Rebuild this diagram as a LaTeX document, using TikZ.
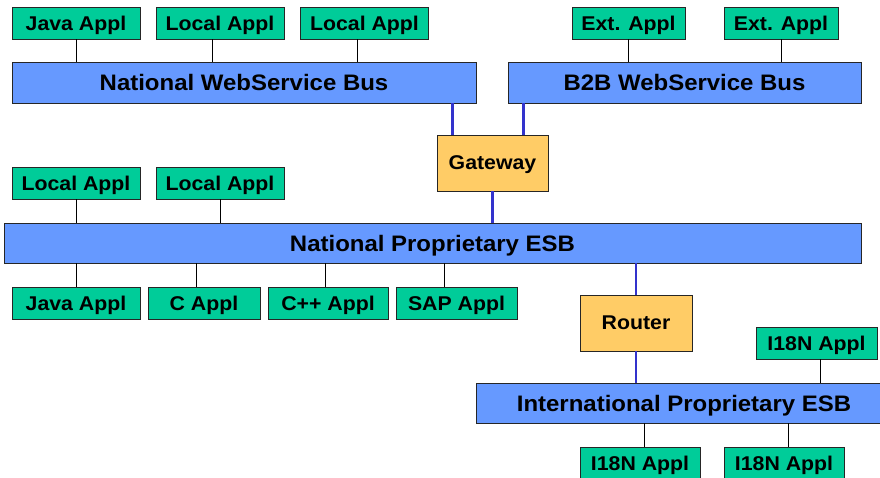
\documentclass[tikz,border=0pt]{standalone}
\usepackage{fontspec}
\newfontfamily\diafont[FakeStretch=1.07]{Liberation Sans}
\definecolor{applgreen}{HTML}{00CC99}
\definecolor{busblue}{HTML}{6699FF}
\definecolor{gwyellow}{HTML}{FFCC66}
\definecolor{linkblue}{HTML}{3333CC}
\tikzset{ap/.style = {rectangle, draw=black!85, fill=applgreen, inner sep=0pt, minimum height=32pt, text depth=0pt,
                      font=\diafont\bfseries\fontsize{19.9}{20}\selectfont},
           bus/.style = {rectangle, draw=black!85, fill=busblue, inner sep=0pt, minimum height=41pt, text depth=0pt,
                      font=\diafont\bfseries\fontsize{22.4}{23}\selectfont},
           gw/.style = {rectangle, draw=black!85, fill=gwyellow, inner sep=0pt, minimum height=56pt, text depth=0pt,
                      font=\diafont\bfseries\fontsize{19.9}{20}\selectfont},
           ln/.style = {line width=0.8pt, draw=black},
           bl/.style = {line width=2.6pt, draw=linkblue}}

\begin{document}
\begin{tikzpicture}[x=1pt, y=-1pt]
    \useasboundingbox (0,0) rectangle (880,477);
    \clip (0,0) rectangle (880,477);
    % upper buses
    \node[bus, minimum width=464pt] (nwb) at (244,82.5) {National WebService Bus};
    \node[bus, minimum width=353pt] (b2b) at (684.5,82.5) {B2B WebService Bus};
    \node[ap, minimum width=128pt] (ja1) at (76,23) {Java Appl}; \node[ap, minimum width=128pt] (la1) at (220,23) {Local Appl};
    \node[ap, minimum width=128pt] (la2) at (364.5,23) {Local Appl};
    \node[ap, minimum width=113pt] (ea1) at (628.5,23) {Ext. Appl}; \node[ap, minimum width=114pt] (ea2) at (781,23) {Ext. Appl};
    \node[gw, minimum width=111pt] (gw) at (492.5,163) {Gateway};
    % national ESB
    \node[bus, minimum width=857pt, minimum height=40pt] (nesb) at (432.5,243) {National Proprietary ESB};
    \node[ap, minimum width=128pt] (la3) at (76,183) {Local Appl}; \node[ap, minimum width=128pt] (la4) at (220,183) {Local Appl};
    \node[ap, minimum width=128pt] (ja2) at (76,303) {Java Appl}; \node[ap, minimum width=112pt] (ca) at (204,303) {C Appl};
    \node[ap, minimum width=120pt] (cpa) at (328,303) {C++ Appl}; \node[ap, minimum width=121pt] (sapa) at (456.5,303) {SAP Appl};
    \node[gw, minimum width=112pt] (rt) at (636,323) {Router};
    % international ESB
    \node[bus, minimum width=416pt, minimum height=40pt] (iesb) at (684,403) {International Proprietary ESB};
    \node[ap, minimum width=121pt] (ia1) at (816.5,343) {I18N Appl};
    \node[ap, minimum width=120pt] (ia2) at (640,463) {I18N Appl}; \node[ap, minimum width=120pt] (ia3) at (784,463) {I18N Appl};
    \draw[ln] (ja1.south) -- (ja1.south |- nwb.north);
    \draw[ln] ([xshift=-8pt]la1.south) -- ([xshift=-8pt]la1.south |- nwb.north);
    \draw[ln] ([xshift=-7pt]la2.south) -- ([xshift=-7pt]la2.south |- nwb.north);
    \draw[ln] (ea1.south) -- (ea1.south |- b2b.north);
    \draw[ln] (ea2.south) -- (ea2.south |- b2b.north);
    \draw[bl] ([xshift=-40pt]gw.north) -- ([xshift=-40pt]gw.north |- nwb.south);
    \draw[bl] ([xshift=31pt]gw.north) -- ([xshift=31pt]gw.north |- b2b.south);
    \draw[bl] (gw.south) -- (gw.south |- nesb.north);
    \draw[ln] (la3.south) -- (la3.south |- nesb.north);
    \draw[ln] (la4.south) -- (la4.south |- nesb.north);
    \draw[ln] (ja2.north) -- (ja2.north |- nesb.south);
    \draw[ln] ([xshift=-8pt]ca.north) -- ([xshift=-8pt]ca.north |- nesb.south);
    \draw[ln] ([xshift=-3pt]cpa.north) -- ([xshift=-3pt]cpa.north |- nesb.south);
    \draw[ln] ([xshift=-12pt]sapa.north) -- ([xshift=-12pt]sapa.north |- nesb.south);
    \draw[bl] (rt.north) -- (rt.north |- nesb.south);
    \draw[bl] (rt.south) -- (rt.south |- iesb.north);
    \draw[ln] ([xshift=4pt]ia1.south) -- ([xshift=4pt]ia1.south |- iesb.north);
    \draw[ln] ([xshift=4pt]ia2.north) -- ([xshift=4pt]ia2.north |- iesb.south);
    \draw[ln] ([xshift=4pt]ia3.north) -- ([xshift=4pt]ia3.north |- iesb.south);
\end{tikzpicture}
\end{document}
